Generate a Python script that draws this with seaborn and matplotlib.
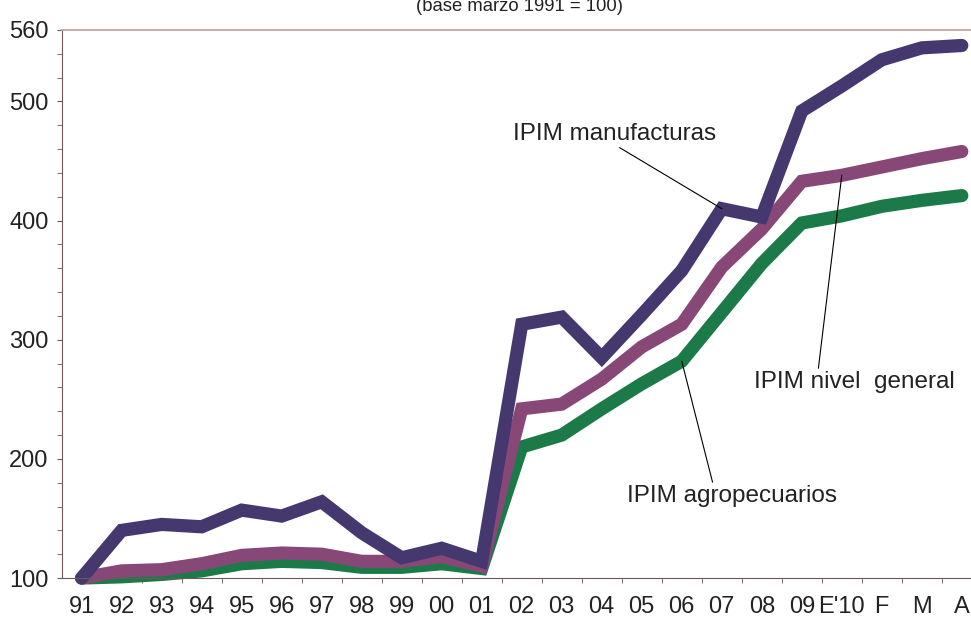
import matplotlib
matplotlib.use("Agg")
import matplotlib.pyplot as plt
import seaborn as sb
import numpy as np
import pandas as pd
from matplotlib.ticker import MultipleLocator, FixedLocator

# periodos (anuales 91-09, luego meses de 2010)
periodos = ["91", "92", "93", "94", "95", "96", "97", "98", "99", "00", "01",
            "02", "03", "04", "05", "06", "07", "08", "09", "E'10", "F", "M", "A"]

# IPIM base marzo 1991 = 100
manufacturas = [100, 140, 145, 143, 157, 152, 164, 138, 117, 125, 114,
                313, 319, 285, 321, 358, 410, 403, 492, 513, 535, 545, 547]
nivel_general = [100, 106, 107, 112, 119, 121, 120, 114, 114, 118, 110,
                 242, 246, 267, 294, 313, 361, 393, 433, 438, 445, 452, 458]
agropecuarios = [100, 101, 103, 106, 112, 114, 113, 109, 109, 112, 108,
                 210, 220, 242, 263, 282, 323, 364, 398, 404, 412, 417, 421]

nombres = ["IPIM agropecuarios", "IPIM nivel  general", "IPIM manufacturas"]
colores = ["#1b7a48", "#874878", "#45386f"]

pos = np.arange(len(periodos))
df = pd.DataFrame({
    "pos": np.tile(pos, 3),
    "valor": agropecuarios + nivel_general + manufacturas,
    "serie": np.repeat(nombres, len(periodos)),
})

plt.rcParams["font.family"] = ["Liberation Sans", "DejaVu Sans"]

fig = plt.figure(figsize=(9.71, 6.21), dpi=100)
ax = fig.add_axes([0.0635, 0.0692, 0.9365, 0.8825])

sb.lineplot(data=df, x="pos", y="valor", hue="serie", hue_order=nombres,
            palette=colores, linewidth=9.5, solid_capstyle="round",
            solid_joinstyle="miter", clip_on=False, legend=False, ax=ax)

ax.set_xlim(-0.5, 22.23)
ax.set_ylim(100, 560)
ax.set_xlabel("")
ax.set_ylabel("")

# ejes
eje = "#6b5a5a"
ax.spines["left"].set_color(eje)
ax.spines["bottom"].set_color(eje)
ax.spines["right"].set_visible(False)
ax.spines["top"].set_color("#c9a3a3")
ax.spines["top"].set_linewidth(1.3)

ax.yaxis.set_major_locator(FixedLocator([100, 200, 300, 400, 500, 560]))
ax.yaxis.set_minor_locator(MultipleLocator(20))
ax.tick_params(axis="y", which="both", length=3.5, color=eje, pad=6,
               labelsize=17, labelcolor="#222222")

ax.set_xticks(pos)
ax.set_xticklabels(periodos)
ax.xaxis.set_minor_locator(FixedLocator(pos[:-1] + 0.5))
ax.tick_params(axis="x", which="major", length=0, pad=13, labelsize=17,
               labelcolor="#222222")
ax.tick_params(axis="x", which="minor", length=3.5, color=eje)

fig.text(0.535, 0.99, "(base marzo 1991 = 100)", ha="center", va="center",
         fontsize=13.3, color="#222222")

flecha = dict(arrowstyle="-", color="black", lw=0.8, shrinkA=0, shrinkB=0)
i07 = periodos.index("07")
ax.annotate("IPIM manufacturas", xy=(i07, manufacturas[i07]),
            xytext=(13.33, 467.8), ha="center", va="baseline", fontsize=17.5,
            color="#222222", arrowprops=dict(flecha, relpos=(0.5, 0)))
ie10 = periodos.index("E'10")
ax.annotate("IPIM nivel  general", xy=(ie10, nivel_general[ie10]),
            xytext=(19.31, 259.5), ha="center", va="baseline", fontsize=17.5,
            color="#222222", arrowprops=dict(flecha, relpos=(0.32, 1)))
i06 = periodos.index("06")
ax.annotate("IPIM agropecuarios", xy=(i06, agropecuarios[i06]),
            xytext=(16.26, 163.8), ha="center", va="baseline", fontsize=17.5,
            color="#222222", arrowprops=dict(flecha, relpos=(0.41, 1)))

fig.savefig("out.png", dpi=100)
